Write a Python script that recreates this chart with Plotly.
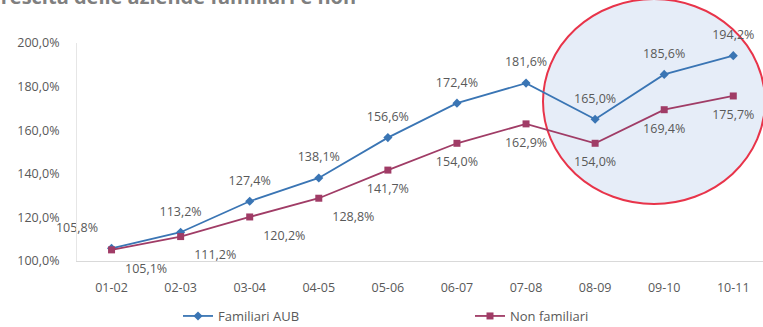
import plotly.graph_objects as go

categories = ["01-02", "02-03", "03-04", "04-05", "05-06", "06-07", "07-08", "08-09", "09-10", "10-11"]
familiari = [105.8, 113.2, 127.4, 138.1, 156.6, 172.4, 181.6, 165.0, 185.6, 194.2]
non_familiari = [105.1, 111.2, 120.2, 128.8, 141.7, 154.0, 162.9, 154.0, 169.4, 175.7]
title_text = "Crescita delle aziende familiari e non"

W, H = 763, 327
L, R, T, B = 77, 0, 43, 66
pw, ph = W - L - R, H - T - B

def px_x(x):
    return (x - L) / pw

def px_y(y):
    return (H - B - y) / ph

blue = "#3a75b4"
maroon = "#a03c66"
txt = "#595959"
font = "'Open Sans', Lato, sans-serif"

fam_y = [v / 100 for v in familiari]
non_y = [v / 100 for v in non_familiari]

fig = go.Figure()
fig.add_trace(go.Scatter(
    x=categories, y=fam_y, name="Familiari AUB", legend="legend",
    mode="lines+markers",
    line=dict(color=blue, width=1.8),
    marker=dict(symbol="diamond", size=7, color=blue),
))
fig.add_trace(go.Scatter(
    x=categories, y=non_y, name="Non familiari", legend="legend2",
    mode="lines+markers",
    line=dict(color=maroon, width=1.8),
    marker=dict(symbol="square", size=7, color=maroon),
))
# data labels (invisible large markers give the label offset)
fig.add_trace(go.Scatter(
    x=categories, y=fam_y, mode="markers+text", showlegend=False, hoverinfo="skip",
    marker=dict(size=20, color="rgba(0,0,0,0)"),
    texttemplate="%{y:.1%}",
    textposition=["top left"] + ["top center"] * 9,
    textfont=dict(color=txt, size=12.5, family=font),
    cliponaxis=False,
))
fig.add_trace(go.Scatter(
    x=categories, y=non_y, mode="markers+text", showlegend=False, hoverinfo="skip",
    marker=dict(size=20, color="rgba(0,0,0,0)"),
    texttemplate="%{y:.1%}",
    textposition=["bottom right"] * 4 + ["bottom center"] * 6,
    textfont=dict(color=txt, size=12.5, family=font),
    cliponaxis=False,
))

# highlight ellipse
fig.add_shape(
    type="circle", xref="paper", yref="paper",
    x0=px_x(543), x1=px_x(765), y0=px_y(204), y1=px_y(-1),
    line=dict(color="#e8344a", width=2),
    fillcolor="rgba(200,214,240,0.45)",
    layer="below",
)

fig.add_annotation(
    text="<b>" + title_text + "</b>", xref="paper", yref="paper",
    x=px_x(-14), y=px_y(-4), xanchor="left", yanchor="middle",
    showarrow=False, font=dict(size=20, color="#7f7f7f", family=font),
)

leg_common = dict(
    orientation="h", yanchor="middle", xanchor="left",
    font=dict(size=13, color=txt, family=font), bgcolor="rgba(0,0,0,0)",
)
fig.update_layout(
    width=W, height=H,
    margin=dict(l=L, r=R, t=T, b=B, autoexpand=False),
    paper_bgcolor="white", plot_bgcolor="rgba(0,0,0,0)",
    separators=",.",
    font=dict(family=font, color=txt, size=13),
    showlegend=True,
    legend=dict(x=px_x(178), y=px_y(316), **leg_common),
    legend2=dict(x=px_x(470), y=px_y(316), **leg_common),
)
fig.update_xaxes(
    type="category", automargin=False,
    range=[-0.5, 9.43], showgrid=False, showline=True, linecolor="#d9d9d9", linewidth=1,
    ticks="", ticklabelstandoff=15, tickfont=dict(size=12.5, color=txt),
)
fig.update_yaxes(
    range=[1.0, 2.0], dtick=0.2, tickformat=".1%", showgrid=False, zeroline=False,
    automargin=False,
    showline=True, linecolor="#e6e6e6", linewidth=1,
    ticks="", ticklabelstandoff=14, tickfont=dict(size=12.5, color=txt),
)

fig.write_html("out.html")
